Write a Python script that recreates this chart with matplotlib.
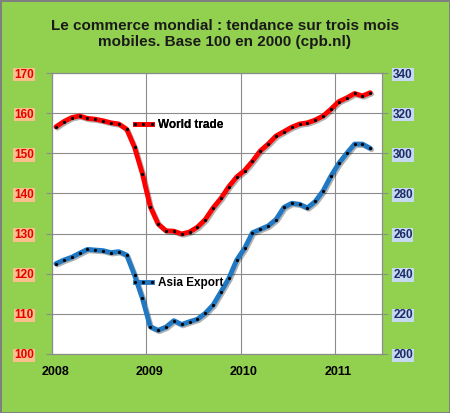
import matplotlib
matplotlib.use('Agg')
import matplotlib.pyplot as plt
import matplotlib.patheffects as pe
import matplotlib.transforms as mtransforms
from matplotlib.lines import Line2D

plt.rcParams['font.family'] = ['Liberation Sans', 'DejaVu Sans']

# monthly values, Jan 2008 - May 2011 (three-month moving average)
world_trade = [156.6, 157.9, 158.9, 159.3, 158.7, 158.5, 158.1, 157.6, 157.3, 156.0,
               151.5, 144.9, 136.7, 132.4, 130.7, 130.6, 129.9, 130.4, 131.6, 133.5,
               136.4, 138.8, 141.7, 144.1, 145.7, 148.0, 150.6, 152.3, 154.3, 155.4,
               156.5, 157.3, 157.6, 158.3, 159.3, 161.0, 162.9, 163.8, 164.9, 164.3,
               165.1]
asia_export = [245.0, 246.8, 248.2, 250.2, 252.1, 251.8, 251.5, 250.5, 251.0, 249.3,
               239.3, 227.7, 213.6, 211.8, 213.4, 216.6, 214.7, 216.1, 217.3, 220.3,
               224.4, 231.0, 237.7, 246.8, 252.6, 260.4, 262.1, 263.8, 267.0, 273.0,
               275.1, 274.6, 272.8, 276.0, 281.3, 288.7, 295.0, 300.0, 304.6, 304.6,
               302.5]
start_year = 2008
years = [2008, 2009, 2010, 2011]
left_ticks = [100, 110, 120, 130, 140, 150, 160, 170]
right_ticks = [200, 220, 240, 260, 280, 300, 320, 340]

GREEN = '#92D050'
RED = '#FF0000'
BLUE = '#1F78C1'
GRID = '#8C8C8C'
LW = 3.5
MS = 1.3

# mid-month dates as decimal years
dates = [start_year + (i + 0.5) / 12 for i in range(len(world_trade))]

fig = plt.figure(figsize=(4.5, 4.13), dpi=100)
fig.patch.set_facecolor(GREEN)
fig.patch.set_edgecolor('#7F7F7F')
fig.patch.set_linewidth(2)

ax = fig.add_axes([0.1156, 0.1429, 0.7334, 0.6803])
ax2 = ax.twinx()

shadow = [pe.SimpleLineShadow(offset=(1, -1), alpha=0.3), pe.Normal()]

red_line, = ax.plot(dates, world_trade, color=RED, lw=LW, solid_capstyle='round',
                    path_effects=shadow, label='World trade')
ax.plot(dates, world_trade, ls='none', marker='o', markersize=MS,
        markerfacecolor='black', markeredgecolor='black')
blue_line, = ax2.plot(dates, asia_export, color=BLUE, lw=LW, solid_capstyle='round',
                      path_effects=shadow, label='Asia Export')
ax2.plot(dates, asia_export, ls='none', marker='o', markersize=MS,
         markerfacecolor='black', markeredgecolor='black')

ax.set_xlim(2008, 2011.5)
ax.set_ylim(100, 170)
ax2.set_ylim(200, 340)
ax.set_xticks(years)
ax.set_xticklabels([str(y) for y in years])
ax.set_yticks(left_ticks)
ax2.set_yticks(right_ticks)

ax.grid(True, color=GRID, lw=0.8)
ax.set_axisbelow(True)
ax.set_facecolor('white')

for a in (ax, ax2):
    for s in a.spines.values():
        s.set_color(GRID)
        s.set_linewidth(0.8)

ax.tick_params(axis='x', length=0, pad=9, labelsize=9, labelcolor='black')
ax.tick_params(axis='y', length=4, color=GRID, pad=9, labelsize=8.5, labelcolor='#E80000')
ax2.tick_params(axis='y', length=4, color=GRID, pad=4, labelsize=8.5, labelcolor='#1C2A66')

# year labels sit a little right of the gridlines, as in the original
shift = mtransforms.ScaledTranslation(3 / 100, 0, fig.dpi_scale_trans)
for lab in ax.get_xticklabels():
    lab.set_fontweight('bold')
    lab.set_transform(lab.get_transform() + shift)
for lab in ax.get_yticklabels():
    lab.set_fontweight('bold')
    lab.set_bbox(dict(facecolor='#F9C08E', edgecolor='none', pad=0.6))
for lab in ax2.get_yticklabels():
    lab.set_fontweight('bold')
    lab.set_bbox(dict(facecolor='#C6D9F1', edgecolor='none', pad=0.6))

fig.text(0.5, 0.917, 'Le commerce mondial : tendance sur trois mois\nmobiles. Base 100 en 2000 (cpb.nl)',
         ha='center', va='center', fontsize=11, fontweight='bold', color='#1A1A1A',
         linespacing=1.2)


def add_legend(a, line, x, y):
    handle = Line2D([0], [0], color=line.get_color(), lw=LW, marker='o', markersize=MS,
                    markerfacecolor='black', markeredgecolor='black')
    leg = a.legend([handle], [line.get_label()], loc='center left', bbox_to_anchor=(x, y),
                   bbox_transform=fig.transFigure, frameon=False, handlelength=2.1,
                   handletextpad=0.2, numpoints=3, borderaxespad=0, borderpad=0,
                   prop={'weight': 'bold', 'size': 8.5})
    return leg


leg1 = add_legend(ax, red_line, 131 / 450, 1 - 125 / 413)
ax.add_artist(leg1)
add_legend(ax2, blue_line, 131 / 450, 1 - 283 / 413)

fig.savefig('out.png', dpi=100, facecolor=fig.get_facecolor(), edgecolor=fig.patch.get_edgecolor())
